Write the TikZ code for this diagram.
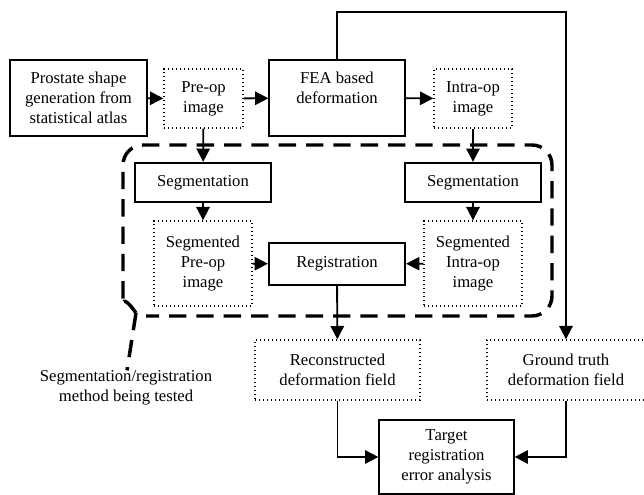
\documentclass[tikz,border=0pt]{standalone}
\usepackage{fontspec}
\setmainfont{Liberation Serif}
\usetikzlibrary{arrows.meta,positioning}
\tikzset{
	>={Triangle[length=10pt,width=10pt]},
	every node/.style={font=\fontsize{12.5}{15}\selectfont, align=center, inner sep=0pt},
	plainbox/.style={draw, line width=0.9pt},
	boldbox/.style={draw, line width=1.7pt},
	dotbox/.style={draw, dotted, line width=1pt},
	link/.style={->, line width=1.4pt},
	groupline/.style={line width=2.6pt, dash pattern=on 13pt off 7.5pt},
}
\begin{document}
\begin{tikzpicture}[x=0.75pt,y=-0.75pt]
	\useasboundingbox (0,0) rectangle (644,495);

	% Top row
	\node[plainbox, minimum width=102.75pt, minimum height=57pt] (atlas) at (78.5,98) {Prostate shape\\generation from\\statistical atlas};
	\node[dotbox, minimum width=59.25pt, minimum height=44.25pt] (preimg) at (203.5,98.5) {Pre-op\\image};
	\node[plainbox, minimum width=102pt, minimum height=57pt] (fea) at (337,98) {FEA based\\deformation\\\mbox{}};
	\node[dotbox, minimum width=58.5pt, minimum height=44.25pt] (intraimg) at (473,98.5) {Intra-op\\image};

	% Method being tested
	\node[boldbox, minimum width=102pt, minimum height=29.25pt] (segpre) at (203,182.5) {Segmentation};
	\node[boldbox, minimum width=102pt, minimum height=29.25pt] (segintra) at (473,182.5) {Segmentation};
	\node[dotbox, minimum width=73.5pt, minimum height=63.75pt] (segpreimg) at (203,263.5) {Segmented\\Pre-op\\image};
	\node[boldbox, minimum width=102pt, minimum height=31.5pt] (reg) at (337,264) {Registration};
	\node[dotbox, minimum width=73.5pt, minimum height=63.75pt] (segintraimg) at (473,263.5) {Segmented\\Intra-op\\image};

	% Outputs
	\node[dotbox, minimum width=123.75pt, minimum height=45pt] (recon) at (337.5,370) {Reconstructed\\deformation field};
	\node[dotbox, minimum width=118.5pt, minimum height=45pt] (truth) at (566,370) {Ground truth\\deformation field};
	\node[plainbox, minimum width=101.25pt, minimum height=55.5pt] (tre) at (446.5,457) {Target\\registration\\error analysis};

	% Label of the dashed region
	\node (method) at (126,388) {Segmentation/registration\\method being tested};
	\coordinate (tail) at (136,313);
	\coordinate (top) at (337,12);
	\coordinate (topright) at (566,12);

	% Dashed region
	\draw[groupline, rounded corners=15pt] (tail) to[out=125,in=-90] (123,285) -- (123,145) -- (552,145) -- (552,316) -- (146,316);
	\draw[groupline] (tail) -- (method.north -| 127,0);

	% Connectors
	\draw[link] (atlas) -- (preimg);
	\draw[link] (preimg) -- (fea);
	\draw[link] (fea) -- (intraimg);
	\draw[link] (preimg) -- (segpre);
	\draw[link] (intraimg) -- (segintra);
	\draw[link] (segpre) -- (segpreimg);
	\draw[link] (segintra) -- (segintraimg);
	\draw[link] (segpreimg) -- (reg);
	\draw[link] (segintraimg) -- (reg);
	\draw[link] (reg) -- (recon);
	\draw[link] (fea.north) -- (top) -- (topright) -- (truth.north);
	\draw[link] (recon.south) |- (tre.west);
	\draw[link] (truth.south) |- (tre.east);
\end{tikzpicture}
\end{document}
